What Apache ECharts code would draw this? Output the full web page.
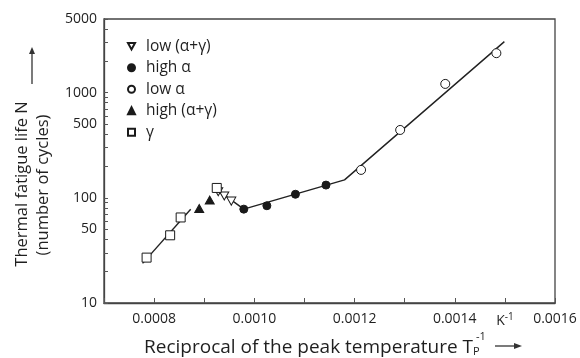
<!DOCTYPE html>
<html>
<head>
<meta charset="utf-8">
<script src="https://cdn.jsdelivr.net/npm/echarts@6/dist/echarts.min.js"></script>
<style>html,body{margin:0;padding:0;background:#fff}#c{width:580px;height:358px}</style>
</head>
<body>
<div id="c"></div>
<script>
// ---- data (x: 1/Tp in K^-1, y: cycles N) ----
var gammaX = [0.000785, 0.000832, 0.000853, 0.000925];
var gammaY = [27, 44, 65, 124];
var highAGX = [0.000890, 0.000911];
var highAGY = [79, 95];
var lowAGX = [0.000928, 0.000940, 0.000954];
var lowAGY = [114, 104, 93];
var highAX = [0.000979, 0.001025, 0.001082, 0.001143];
var highAY = [78, 84, 108, 132];
var lowAX = [0.001213, 0.001291, 0.001381, 0.001483];
var lowAY = [184, 441, 1208, 2367];
var fit1X = [0.000777, 0.000873];
var fit1Y = [23.8, 77.9];
var fit2X = [0.000924, 0.000979, 0.001180, 0.001499];
var fit2Y = [121, 78, 148, 3046];
var yLabelTicks = [10, 50, 100, 500, 1000, 5000];
var yMinorTicks = [20, 30, 40, 60, 70, 80, 90, 200, 300, 400, 600, 700, 800, 900, 2000, 3000, 4000];
var xLabelled = { 8: '0.0008', 10: '0.0010', 12: '0.0012', 14: '0.0014', 15: '{k|K}{sup|-1}', 16: '0.0016' };
var legendNames = ['low (α+γ)', 'high α', 'low α', 'high (α+γ)', 'γ'];

function pts(xs, ys) { return xs.map(function (x, i) { return [x, Math.log10(ys[i])]; }); }
var FONT = '"Open Sans", "Noto Sans", sans-serif';
var INK = '#1f1f1f';

var chart = echarts.init(document.getElementById('c'), null, { renderer: 'canvas' });
var scatterBase = { type: 'scatter', symbolSize: 8, z: 5 };
function st(fill) { return { color: fill, borderColor: '#1a1a1a', borderWidth: 1, opacity: 1 }; }
chart.setOption({
  animation: false,
  backgroundColor: '#fff',
  textStyle: { fontFamily: FONT, color: INK },
  grid: { left: 104, top: 19, right: 25, bottom: 55, show: true, borderColor: '#444', borderWidth: 1.3, backgroundColor: 'transparent' },
  legend: {
    orient: 'vertical', left: 122, top: 33, itemWidth: 7, itemHeight: 7, itemGap: 5,
    textStyle: { fontFamily: FONT, fontSize: 15.5, lineHeight: 16.5, color: INK, padding: [0, 0, 0, 6] },
    data: legendNames
  },
  xAxis: {
    type: 'value', min: 0.0007, max: 0.0016, interval: 0.0001,
    axisLine: { lineStyle: { color: '#444', width: 1.3 } },
    axisTick: { inside: true, length: 5, lineStyle: { color: '#555' } },
    splitLine: { show: false },
    axisLabel: {
      margin: 9, fontSize: 14, color: INK, fontFamily: FONT, showMinLabel: true, showMaxLabel: true, interval: 0,
      formatter: function (v) { var k = Math.round(v * 10000); return xLabelled[k] || ''; },
      rich: { k: { fontSize: 14, fontFamily: FONT, color: INK }, sup: { fontSize: 10, fontFamily: FONT, color: INK, padding: [0, 0, 8, 0] } }
    }
  },
  yAxis: {
    type: 'value', min: 1, max: Math.log10(5000),
    axisLine: { show: true, lineStyle: { color: '#444', width: 1.3 } },
    axisTick: { show: true, inside: true, length: 4, lineStyle: { color: '#555' },
      customValues: yLabelTicks.concat(yMinorTicks).map(function (v) { return Math.log10(v); }) },
    splitLine: { show: false },
    axisLabel: {
      margin: 7, fontSize: 14, color: INK, fontFamily: FONT,
      customValues: yLabelTicks.map(function (v) { return Math.log10(v); }),
      formatter: function (v) { return String(Math.round(Math.pow(10, v))); }
    }
  },
  series: [
    { type: 'line', data: pts(fit1X, fit1Y), symbol: 'none', lineStyle: { color: '#222', width: 1.4 }, z: 2, silent: true },
    { type: 'line', data: pts(fit2X, fit2Y), symbol: 'none', lineStyle: { color: '#222', width: 1.4 }, z: 2, silent: true },
    Object.assign({}, scatterBase, { name: legendNames[0], data: pts(lowAGX, lowAGY), symbol: 'path://M0,0 L10,0 L5,9 Z', symbolSize: [9, 8], itemStyle: st('#fff') }),
    Object.assign({}, scatterBase, { name: legendNames[1], data: pts(highAX, highAY), symbol: 'circle', itemStyle: st('#1a1a1a') }),
    Object.assign({}, scatterBase, { name: legendNames[2], data: pts(lowAX, lowAY), symbol: 'circle', symbolSize: 9, itemStyle: st('#fff') }),
    Object.assign({}, scatterBase, { name: legendNames[3], data: pts(highAGX, highAGY), symbol: 'triangle', symbolSize: [9, 8], itemStyle: st('#1a1a1a') }),
    Object.assign({}, scatterBase, { name: legendNames[4], data: pts(gammaX, gammaY), symbol: 'rect', symbolSize: 9, itemStyle: st('#fff') })
  ],
  graphic: [
    { type: 'text', x: 22, y: 184, rotation: Math.PI / 2,
      style: { text: 'Thermal fatigue life N', font: '16.5px ' + FONT, fill: INK, align: 'center', verticalAlign: 'middle' } },
    { type: 'text', x: 43, y: 185, rotation: Math.PI / 2,
      style: { text: '(number of cycles)', font: '16.5px ' + FONT, fill: INK, align: 'center', verticalAlign: 'middle' } },
    { type: 'line', shape: { x1: 32, y1: 84, x2: 32, y2: 53 }, style: { stroke: '#333', lineWidth: 1.3 } },
    { type: 'polygon', shape: { points: [[29, 54], [35, 54], [32, 47]] }, style: { fill: '#333' } },
    { type: 'text', x: 473, y: 348,
      style: { text: 'Reciprocal of the peak temperature T', font: '19px ' + FONT, fill: INK, align: 'right', verticalAlign: 'middle' } },
    { type: 'text', x: 473, y: 352,
      style: { text: 'P', font: '11px ' + FONT, fill: INK, align: 'left', verticalAlign: 'middle' } },
    { type: 'text', x: 476, y: 337,
      style: { text: '-1', font: '11px ' + FONT, fill: INK, align: 'left', verticalAlign: 'middle' } },
    { type: 'line', shape: { x1: 495, y1: 346, x2: 516, y2: 346 }, style: { stroke: '#333', lineWidth: 1.3 } },
    { type: 'polygon', shape: { points: [[514, 343], [514, 349], [522, 346]] }, style: { fill: '#333' } }
  ]
});
</script>
</body>
</html>
